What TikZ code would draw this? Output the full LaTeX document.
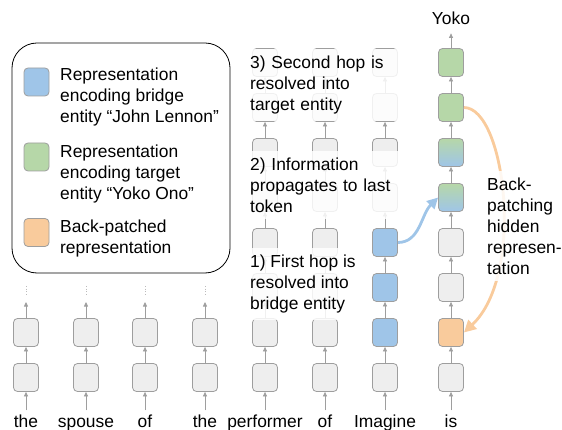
\documentclass[tikz,border=0pt]{standalone}
\usepackage{fontspec}
\setmainfont{Liberation Sans}
\usetikzlibrary{arrows.meta}

\definecolor{cellgray}{HTML}{EEEEEE}
\definecolor{cellline}{HTML}{9E9E9E}
\definecolor{bridgeblue}{HTML}{9FC5E8}
\definecolor{targetgreen}{HTML}{B6D7A8}
\definecolor{patchorange}{HTML}{F9CB9C}

\newcommand{\labelfont}{\fontsize{17.4}{21}\selectfont}

\tikzset{
    cell/.style={draw=cellline, fill=cellgray, rounded corners=4pt, minimum width=25pt,
        minimum height=28pt, inner sep=0pt, line width=0.8pt},
    bluecell/.style={cell, fill=bridgeblue},
    greencell/.style={cell, fill=targetgreen},
    patchcell/.style={cell, fill=patchorange},
    mixcell/.style={cell, top color=targetgreen, bottom color=bridgeblue},
    flow/.style={draw=cellline, line width=0.7pt, -{Triangle[width=4pt,length=4.5pt]}},
    word/.style={font=\labelfont, anchor=base, text height=12.5pt, text depth=3.7pt, inner sep=4pt},
    note/.style={font=\labelfont, align=left, anchor=north west, inner sep=0pt},
    cover/.style={note, fill=white, fill opacity=0.85, text opacity=1, inner xsep=5pt, inner ysep=7pt},
    relay/.style={draw=bridgeblue, line width=2.8pt, -{Triangle[width=11pt,length=11pt]}},
    patch/.style={draw=patchorange, line width=2.8pt, -{Triangle[width=12pt,length=12pt]}},
}

\begin{document}
\begin{tikzpicture}[x=1pt, y=-1pt]
    \useasboundingbox (0,0) rectangle (562,430);

    % token columns
    \foreach \c/\x/\w/\n/\kinds in {1/26/the/2/{cell,cell}, 2/86/spouse/2/{cell,cell},
        3/145/of/2/{cell,cell}, 4/205/the/2/{cell,cell},
        5/265/performer/8/{cell,cell,cell,cell,cell,cell,cell,cell},
        6/325/of/8/{cell,cell,cell,cell,cell,cell,cell,cell},
        7/385/Imagine/8/{cell,bluecell,bluecell,bluecell,cell,cell,cell,cell},
        8/451/is/8/{cell,patchcell,cell,cell,mixcell,mixcell,greencell,greencell}} {
        \node[word] (w\c) at (\x,427) {\w};
        \foreach \k [count=\r] in \kinds {
            \node[\k] (t\c-\r) at (\x,{377.5-45*(\r-1)}) {};
        }
        \draw[flow] (w\c.north) -- (t\c-1.south);
        \foreach \r [evaluate=\r as \p using int(\r-1)] in {2,...,\n} {
            \draw[flow] (t\c-\p.north) -- (t\c-\r.south);
        }
    }

    % layers left out
    \foreach \c/\x in {1/26, 2/86, 3/145, 4/205} {
        \coordinate (top\c) at (\x,302);
        \draw[flow] (t\c-2.north) -- (top\c);
        \draw[cellline!70, dotted, line width=0.7pt] (\x,286) -- (\x,296);
    }

    \node[font=\labelfont, anchor=base, inner sep=8pt] (yoko) at (451,25) {Yoko};
    \draw[flow] (t8-8.north) -- (yoko.south);

    % steps
    \node[cover, text width=145pt] (hop2) at (245,48.5) {3) Second hop is\\resolved into\\target entity};
    \node[cover, text width=145pt] (spread) at (245,150.5) {2) Information\\propagates to last\\token};
    \node[cover] (hop1) at (245,247.5) {1) First hop is\\resolved into\\bridge entity};

    \draw[patch] (t8-7.east) .. controls +(41.5,0) and +(61.5,-57.5) .. (t8-2.east);
    \node[cover] (backpatch) at (482,170.5) {Back-\\patching\\hidden\\represen-\\tation};
    \draw[relay] (t7-4.east) .. controls +(22,0) and +(-17,17) .. (t8-5.west);

    % legend
    \draw[line width=0.8pt, rounded corners=25pt] (12,43) rectangle (230,273);
    \node[bluecell] (keyblue) at (36.5,82) {};
    \node[note] (keybluetext) at (60,67.5) {Representation\\encoding bridge\\entity ``John Lennon''};
    \node[greencell] (keygreen) at (36.5,157) {};
    \node[note] (keygreentext) at (60,144.5) {Representation\\encoding target\\entity ``Yoko Ono''};
    \node[patchcell] (keypatch) at (36.5,232.5) {};
    \node[note] (keypatchtext) at (60,219.5) {Back-patched\\representation};
\end{tikzpicture}
\end{document}
